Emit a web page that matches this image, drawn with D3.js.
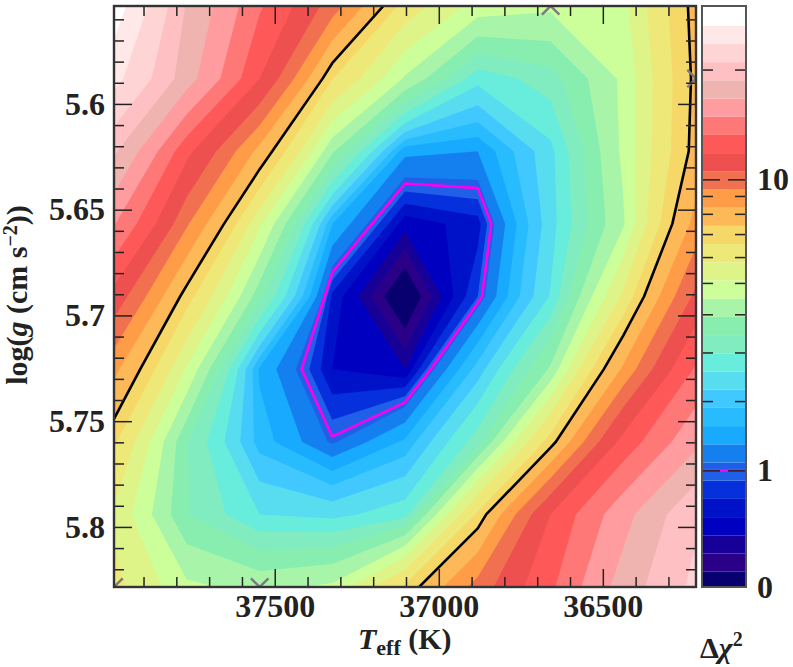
<!DOCTYPE html>
<html>
<head>
<meta charset="utf-8">
<script src="https://d3js.org/d3.v7.min.js"></script>
<style>
  html, body { margin: 0; background: #fff; }
  text { font-family: "Liberation Serif", serif; font-weight: bold; fill: #222; }
</style>
</head>
<body>
<svg id="chart" width="793" height="667"></svg>
<script>
// grid nodes of the fit, columns go down in Teff
const teffGrid = [37990, 37768, 37546, 37325, 37103, 36881, 36659, 36438, 36216];
const loggGrid = [5.5537, 5.5880, 5.6224, 5.6567, 5.6910, 5.7254, 5.7597, 5.7940, 5.8284];

// delta chi2, one row per log g
const row0 = [28, 18.5, 13.5, 9.9, 6.2, 4.8, 4.6, 4.9, 7.6];
const row1 = [24.5, 17.5, 11.85, 6.6, 4.4, 2.7, 3.2, 4.6, 7.5];
const row2 = [19, 12.2, 8.0, 4.0, 1.4, 1.33, 2.45, 4.6, 7.6];
const row3 = [15, 9.5, 5.2, 1.6, 0.5, 0.68, 2.4, 4.4, 8.7];
const row4 = [11.3, 6.9, 3.6, 0.7, 0, 0.9, 2.6, 5.9, 10.8];
const row5 = [8.6, 5.0, 1.55, 0.6, 0.45, 2.0, 4.0, 8.5, 13.5];
const row6 = [6.7, 3.45, 1.75, 1.03, 1.65, 3.2, 6.9, 12.3, 16.2];
const row7 = [5.6, 3.45, 2.57, 2.45, 2.8, 6.7, 11.85, 16, 20.5];
const row8 = [6.0, 4.6, 4.3, 4.6, 6.7, 9.8, 13, 17.5, 21.5];

// colour levels and the band colours between them
const levels = [0, 0.2, 0.33, 0.45, 0.6, 0.75, 0.9, 1.076, 1.33, 1.6, 1.88, 2.2, 2.57, 2.98, 3.42, 3.92,
  4.48, 5.08, 5.77, 6.57, 7.35, 8.33, 9.37, 10.5, 11.85, 13.3, 14.9, 16.7, 18.7, 20.9, 23.6, 26.4, 30];
const bandColors = ["#08006e", "#2a0088", "#160098", "#0000c0", "#0012c8", "#0530dc", "#2060e8", "#1480f0",
  "#18aaff", "#28bcff", "#40c8ff", "#58dcf0", "#68ecdc", "#80ecc0", "#88eeb0", "#a8f4a8",
  "#ccff99", "#dff488", "#eee878", "#f5d868", "#fdb858", "#ff9c48", "#f07050", "#ee5050",
  "#ff5858", "#ff7878", "#ff9ca0", "#f0b4b0", "#ffc0c4", "#ffd4d4", "#ffe8e8", "#ffffff"];

const lineLevels = [1, 7.3];
const lineColors = ["#ff00ee", "#000"];

const teffMajor = [37500, 37000, 36500];
const teffMinor = [37900, 37800, 37700, 37600, 37400, 37300, 37200, 37100, 36900, 36800, 36700, 36600, 36400, 36300];
const loggMajor = [5.6, 5.65, 5.7, 5.75, 5.8];
const loggMinor = [5.56, 5.57, 5.58, 5.59, 5.61, 5.62, 5.63, 5.64, 5.66, 5.67, 5.68, 5.69, 5.71, 5.72, 5.73, 5.74,
  5.76, 5.77, 5.78, 5.79, 5.81, 5.82];
const barMajor = [1, 10];
const barMinor = [2, 3, 4, 5, 6, 7, 8, 9, 20];
const barLabels = [0, 1, 10];

// grey crosses on the frame
const crossTeff = [37990, 37546, 36659, 36216];
const crossLogg = [5.8284, 5.8284, 5.5537, 5.5880];

const plotLeft = 114, plotRight = 696, plotTop = 6, plotBottom = 587;
const barLeft = 702, barRight = 746;

const svg = d3.select("#chart");
const values = [row0, row1, row2, row3, row4, row5, row6, row7, row8].flat();

const x = d3.scaleLinear().domain([teffGrid[0], teffGrid[8]]).range([plotLeft, plotRight]);
const y = d3.scaleLinear().domain([loggGrid[0], loggGrid[8]]).range([plotTop, plotBottom]);

// d3.contours puts a node at i + 0.5
const gridToTeff = d3.scaleLinear().domain([0.5, 8.5]).range([teffGrid[0], teffGrid[8]]);
const gridToLogg = d3.scaleLinear().domain([0.5, 8.5]).range([loggGrid[0], loggGrid[8]]);
const path = d3.geoPath(d3.geoTransform({
  point(px, py) { this.stream.point(x(gridToTeff(px)), y(gridToLogg(py))); }
}));

svg.append("defs").append("clipPath").attr("id", "plotClip")
  .append("rect")
  .attr("x", plotLeft).attr("y", plotTop)
  .attr("width", plotRight - plotLeft).attr("height", plotBottom - plotTop);

const plot = svg.append("g").attr("clip-path", "url(#plotClip)");
const contours = d3.contours().size([9, 9]).smooth(true);

plot.selectAll("path.band")
  .data(levels.slice(0, -1))
  .join("path")
  .attr("class", "band")
  .attr("d", (d) => path(contours.contour(values, d)))
  .attr("fill", (d, i) => bandColors[i]);

plot.selectAll("path.line")
  .data(lineLevels)
  .join("path")
  .attr("class", "line")
  .attr("d", (d) => path(contours.contour(values, d)))
  .attr("fill", "none")
  .attr("stroke", (d, i) => lineColors[i])
  .attr("stroke-width", 2.6)
  .attr("stroke-linejoin", "round");

plot.selectAll("path.cross")
  .data(crossTeff)
  .join("path")
  .attr("class", "cross")
  .attr("d", d3.symbol().type(d3.symbolTimes).size(200))
  .attr("transform", (d, i) => `translate(${x(d)},${y(crossLogg[i])})`)
  .attr("fill", "none")
  .attr("stroke", "#7a7a80")
  .attr("stroke-width", 2.4);

// axes, ticks point inwards on all four sides
const drawAxis = (axis, tx, ty, tickValues, size, fmt, pad) => {
  const g = svg.append("g")
    .attr("transform", `translate(${tx},${ty})`)
    .call(axis.tickValues(tickValues).tickSize(size).tickSizeOuter(0).tickPadding(pad).tickFormat(fmt));
  g.select(".domain").remove();
  g.selectAll(".tick line").attr("stroke", "#222").attr("stroke-width", 1.5);
  g.selectAll("text").attr("font-size", 32).attr("fill", "#222");
  return g;
};

const noLabel = () => "";
drawAxis(d3.axisBottom(x), 0, plotBottom, teffMajor, -18, d3.format("d"), 7);
drawAxis(d3.axisBottom(x), 0, plotBottom, teffMinor, -10, noLabel, 0);
drawAxis(d3.axisTop(x), 0, plotTop, teffMajor, -18, noLabel, 0);
drawAxis(d3.axisTop(x), 0, plotTop, teffMinor, -10, noLabel, 0);
drawAxis(d3.axisLeft(y), plotLeft, 0, loggMajor, -18, String, 9);
drawAxis(d3.axisLeft(y), plotLeft, 0, loggMinor, -10, noLabel, 0);
drawAxis(d3.axisRight(y), plotRight, 0, loggMajor, -18, noLabel, 0);
drawAxis(d3.axisRight(y), plotRight, 0, loggMinor, -10, noLabel, 0);

svg.append("rect")
  .attr("x", plotLeft).attr("y", plotTop)
  .attr("width", plotRight - plotLeft).attr("height", plotBottom - plotTop)
  .attr("fill", "none")
  .attr("stroke", "#333")
  .attr("stroke-width", 2.4);

// colour bar, one band per level step
const bandHeight = 18.2;
const edge = (i) => i === 0 ? plotBottom : i === levels.length - 1 ? plotTop : plotBottom - 15.3 - bandHeight * (i - 1);
const barScale = d3.scaleLinear().domain(levels).range(levels.map((d, i) => edge(i)));

svg.selectAll("rect.barBand")
  .data(bandColors)
  .join("rect")
  .attr("class", "barBand")
  .attr("x", barLeft)
  .attr("width", barRight - barLeft)
  .attr("y", (d, i) => barScale(levels[i + 1]))
  .attr("height", (d, i) => barScale(levels[i]) - barScale(levels[i + 1]))
  .attr("fill", (d) => d);

svg.append("line")
  .attr("x1", barLeft).attr("x2", barRight)
  .attr("y1", barScale(lineLevels[0])).attr("y2", barScale(lineLevels[0]))
  .attr("stroke", lineColors[0])
  .attr("stroke-width", 2.6);

drawAxis(d3.axisRight(barScale), barLeft, 0, barMajor, 18, noLabel, 0);
drawAxis(d3.axisRight(barScale), barLeft, 0, barMinor, 11, noLabel, 0);
drawAxis(d3.axisLeft(barScale), barRight, 0, barMajor, 18, noLabel, 0);
drawAxis(d3.axisLeft(barScale), barRight, 0, barMinor, 11, noLabel, 0);

svg.append("rect")
  .attr("x", barLeft).attr("y", plotTop)
  .attr("width", barRight - barLeft).attr("height", plotBottom - plotTop)
  .attr("fill", "none")
  .attr("stroke", "#555")
  .attr("stroke-width", 2);

svg.selectAll("text.barLabel")
  .data(barLabels)
  .join("text")
  .attr("class", "barLabel")
  .attr("x", 757)
  .attr("y", (d) => barScale(d) + 11)
  .attr("font-size", 32)
  .text((d) => d);

// axis titles
const xTitle = svg.append("text").attr("x", 358).attr("y", 649).attr("font-size", 30);
xTitle.append("tspan").attr("font-style", "italic").text("T");
xTitle.append("tspan").attr("font-size", 22).attr("dy", 6).text("eff");
xTitle.append("tspan").attr("dy", -6).text(" (K)");

const yTitle = svg.append("text")
  .attr("transform", "translate(27,295) rotate(-90)")
  .attr("text-anchor", "middle")
  .attr("font-size", 30);
yTitle.append("tspan").text("log(");
yTitle.append("tspan").attr("font-style", "italic").text("g");
yTitle.append("tspan").text(" (cm s");
yTitle.append("tspan").attr("font-size", 20).attr("dy", -10).text("\u22122");
yTitle.append("tspan").attr("dy", 10).text("))");

const barTitle = svg.append("text").attr("x", 700).attr("y", 658).attr("font-size", 30);
barTitle.append("tspan").text("\u0394");
barTitle.append("tspan").attr("font-style", "italic").text("\u03c7");
barTitle.append("tspan").attr("font-size", 20).attr("dy", -12).text("2");
</script>
</body>
</html>
